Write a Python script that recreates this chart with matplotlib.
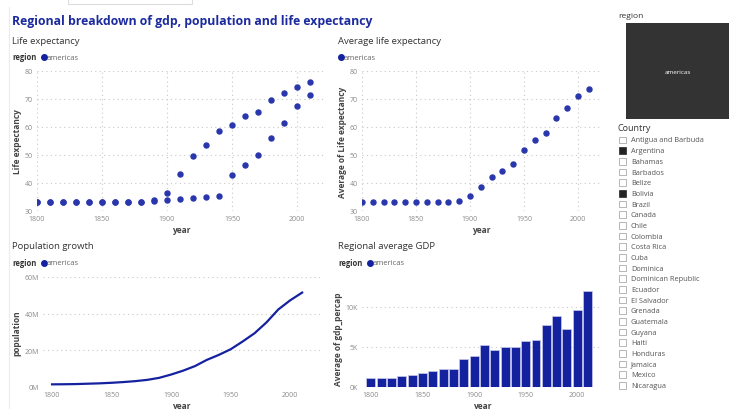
import matplotlib
matplotlib.use('Agg')
import matplotlib.pyplot as plt
from matplotlib.patches import Rectangle
from matplotlib.ticker import FuncFormatter

plt.rcParams['font.family'] = ['Open Sans', 'DejaVu Sans']

W, H = 729, 410

# data
years = [1800, 1810, 1820, 1830, 1840, 1850, 1860, 1870, 1880, 1890, 1900,
         1910, 1920, 1930, 1940, 1950, 1960, 1970, 1980, 1990, 2000, 2010]
life_argentina = [33.2, 33.2, 33.2, 33.2, 33.2, 33.2, 33.2, 33.2, 33.3, 33.8, 36.5,
                  43.2, 49.7, 53.6, 58.4, 60.6, 64.0, 65.3, 69.8, 72.2, 74.2, 75.9]
life_bolivia = [33.1, 33.1, 33.1, 33.1, 33.1, 33.1, 33.1, 33.1, 33.2, 33.7, 33.9,
                34.2, 34.5, 34.9, 35.2, 42.8, 46.3, 50.1, 56.2, 61.4, 67.6, 71.6]
life_avg = [33.1, 33.1, 33.1, 33.1, 33.1, 33.1, 33.1, 33.1, 33.2, 33.7, 35.3,
            38.7, 42.2, 44.4, 46.7, 51.9, 55.3, 57.8, 63.2, 66.7, 71.0, 73.7]
population = [1.45e6, 1.5e6, 1.6e6, 1.8e6, 2.0e6, 2.3e6, 2.7e6, 3.2e6, 3.9e6, 5.0e6, 6.8e6,
              8.9e6, 11.4e6, 14.8e6, 17.5e6, 20.6e6, 24.8e6, 29.3e6, 35.2e6, 42.3e6, 47.3e6, 51.5e6]
gdp_percap = [1180, 1180, 1180, 1340, 1500, 1720, 1970, 2220, 2310, 3440, 3900,
              5250, 4580, 5040, 4960, 5710, 5840, 7770, 8900, 7230, 9620, 12000]

countries = ['Antigua and Barbuda', 'Argentina', 'Bahamas', 'Barbados', 'Belize', 'Bolivia',
             'Brazil', 'Canada', 'Chile', 'Colombia', 'Costa Rica', 'Cuba', 'Dominica',
             'Dominican Republic', 'Ecuador', 'El Salvador', 'Grenada', 'Guatemala', 'Guyana',
             'Haiti', 'Honduras', 'Jamaica', 'Mexico', 'Nicaragua']
selected = ['Argentina', 'Bolivia']

DOT = '#2a37ac'
BAR = '#1522a0'
TITLE_BLUE = '#1b2a9e'
TICK = '#8a8a8a'
LABEL = '#444444'

fig = plt.figure(figsize=(W / 100, H / 100), dpi=100)
fig.patch.set_facecolor('white')

# overlay in pixel coords for page furniture
bg = fig.add_axes([0, 0, 1, 1])
bg.set_xlim(0, W)
bg.set_ylim(H, 0)
bg.axis('off')


def px_axes(x0, x1, y0, y1):
    return fig.add_axes([x0 / W, 1 - y1 / H, (x1 - x0) / W, (y1 - y0) / H])


def style(ax, xlabel, ylabel, vgrid=True):
    for s in ax.spines.values():
        s.set_visible(False)
    ax.set_facecolor('none')
    ax.tick_params(length=0, labelsize=5, labelcolor=TICK, pad=3)
    ax.grid(axis='y', linestyle=(0, (1, 3)), color='#c8c8c8', linewidth=0.8)
    if vgrid:
        ax.grid(axis='x', linestyle=(0, (1, 3)), color='#c8c8c8', linewidth=0.8)
    ax.set_axisbelow(True)
    ax.set_xlabel(xlabel, fontsize=6, color=LABEL, fontweight='bold', labelpad=2)
    ax.set_ylabel(ylabel, fontsize=6, color=LABEL, fontweight='bold', labelpad=2)
    ax.set_xticks([1800, 1850, 1900, 1950, 2000])


def legend(x, y, show_region=True):
    if show_region:
        bg.text(x, y, 'region', fontsize=5.5, fontweight='bold', color='#333333', va='center')
        x += 29
    bg.plot(x + 3, y, 'o', color=BAR, markersize=4)
    bg.text(x + 6, y, 'americas', fontsize=5.5, color='#666666', va='center')


# page edge / leftover tooltip
bg.plot([9, 9], [8, 410], color='#ececec', linewidth=0.8)
bg.add_patch(Rectangle((68, -4), 124, 9, facecolor='white', edgecolor='#dddddd', linewidth=0.8))

bg.text(12, 21, 'Regional breakdown of gdp, population and life expectancy', fontsize=8.8,
        fontweight='bold', color=TITLE_BLUE, va='center')

# --- Life expectancy ---
bg.text(12, 41, 'Life expectancy', fontsize=6.8, color='#333333', va='center')
legend(12, 58)
ax1 = px_axes(37, 325, 72, 212)
ax1.scatter(years, life_argentina, s=13, color=DOT, zorder=3)
ax1.scatter(years, life_bolivia, s=13, color=DOT, zorder=3)
ax1.set_xlim(1800, 2021.5)
ax1.set_ylim(30, 80)
ax1.set_yticks([30, 40, 50, 60, 70, 80])
style(ax1, 'year', 'Life expectancy')

# --- Average life expectancy ---
bg.text(338, 41, 'Average life expectancy', fontsize=6.8, color='#333333', va='center')
legend(338, 58, show_region=False)
ax2 = px_axes(362, 600, 72, 212)
ax2.scatter(years, life_avg, s=13, color=DOT, zorder=3)
ax2.set_xlim(1800, 2020.4)
ax2.set_ylim(30, 80)
ax2.set_yticks([30, 40, 50, 60, 70, 80])
style(ax2, 'year', 'Average of Life expectancy')

# --- Population growth ---
bg.text(12, 247, 'Population growth', fontsize=6.8, color='#333333', va='center')
legend(12, 264)
ax3 = px_axes(43, 320, 278, 388)
ax3.plot(years, population, color=BAR, linewidth=1.6)
ax3.set_xlim(1792.4, 2025)
ax3.set_ylim(0, 60e6)
ax3.set_yticks([0, 20e6, 40e6, 60e6])
ax3.yaxis.set_major_formatter(FuncFormatter(lambda v, p: f'{v / 1e6:.0f}M'))
style(ax3, 'year', 'population', vgrid=False)

# --- Regional average GDP ---
bg.text(338, 247, 'Regional average GDP', fontsize=6.8, color='#333333', va='center')
legend(338, 264)
ax4 = px_axes(362, 602, 290, 388)
ax4.bar(years, gdp_percap, width=8.7, color=BAR, edgecolor='#c9cbea', linewidth=0.5, zorder=3)
ax4.set_xlim(1791.3, 2024)
ax4.set_ylim(0, 12250)
ax4.set_yticks([0, 5000, 10000])
ax4.yaxis.set_major_formatter(FuncFormatter(lambda v, p: f'{v / 1000:.0f}K'))
style(ax4, 'year', 'Average of gdp_percap', vgrid=False)

# --- slicers ---
bg.text(618, 17, 'region', fontsize=6, color='#333333', va='center')
bg.add_patch(Rectangle((626, 24), 110, 96, facecolor='#333333', edgecolor='none'))
bg.text(678, 72, 'americas', fontsize=4.5, color='white', ha='center', va='center')
bg.text(618, 129, 'Country', fontsize=6.5, color='#333333', va='center')
for i, name in enumerate(countries):
    y = 141 + i * 10.67
    on = name in selected
    bg.add_patch(Rectangle((619, y - 3.3), 6.6, 6.6, facecolor='#252423' if on else 'white',
                           edgecolor='#252423' if on else '#9a9a9a', linewidth=0.5))
    bg.text(631, y, name, fontsize=5.3, color='#555555', va='center')

fig.savefig('out.png', dpi=100)
